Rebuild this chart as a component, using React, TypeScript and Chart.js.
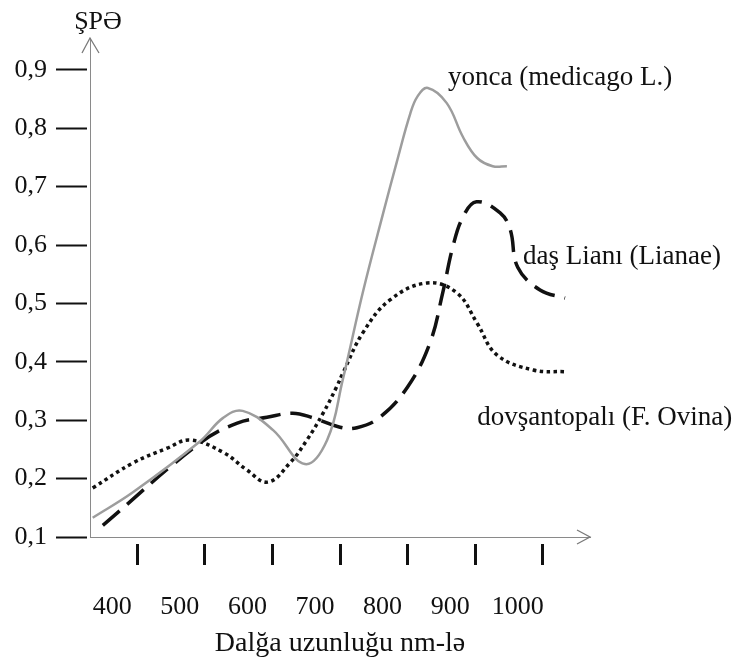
import React, { useEffect, useRef } from "react";
import { Chart, registerables } from "chart.js";

Chart.register(...registerables);

// Axis ticks and titles
const X_TICKS = [400, 500, 600, 700, 800, 900, 1000];
const Y_TICKS = [0.1, 0.2, 0.3, 0.4, 0.5, 0.6, 0.7, 0.8, 0.9];
const Y_TITLE = "ŞPƏ";
const X_TITLE = "Dalğa uzunluğu nm-lə";

// Series: yonca (medicago L.)
const YONCA_NM = [334, 394, 493, 527, 556, 601, 648, 681, 704, 734, 764, 784, 804, 815, 830, 858, 882, 903, 926, 947];
const YONCA_VAL = [0.133, 0.177, 0.264, 0.304, 0.316, 0.283, 0.225, 0.266, 0.369, 0.52, 0.655, 0.742, 0.825, 0.855, 0.869, 0.843, 0.785, 0.749, 0.735, 0.735];

// Series: daş Lianı (Lianae)
const DAS_NM = [349, 493, 548, 592, 630, 660, 700, 725, 759, 800, 833, 852, 867, 882, 902, 937, 952, 963, 996, 1033];
const DAS_VAL = [0.12, 0.261, 0.295, 0.305, 0.312, 0.304, 0.288, 0.287, 0.305, 0.357, 0.432, 0.518, 0.597, 0.648, 0.674, 0.655, 0.626, 0.562, 0.523, 0.509];

// Series: dovşantopalı (F. Ovina)
const DOVSAN_NM = [334, 394, 444, 478, 527, 562, 593, 626, 651, 675, 695, 704, 734, 774, 829, 873, 903, 932, 986, 1033];
const DOVSAN_VAL = [0.184, 0.227, 0.252, 0.266, 0.245, 0.215, 0.194, 0.227, 0.266, 0.312, 0.357, 0.38, 0.45, 0.506, 0.535, 0.518, 0.466, 0.412, 0.386, 0.383];

const SERIES_NAMES = ["yonca (medicago L.)", "daş Lianı (Lianae)", "dovşantopalı (F. Ovina)"];
// label anchors (in data units)
const LABEL_NM = [860, 971, 903];
const LABEL_VAL = [0.886, 0.579, 0.304];

const SERIF = "'Liberation Serif', 'Times New Roman', serif";

const axisDecor = {
  id: "axisDecor",
  afterDraw(chart: any) {
    const { ctx, chartArea: a } = chart;
    ctx.save();
    ctx.strokeStyle = "#7a7a7a";
    ctx.lineWidth = 1.3;
    ctx.beginPath();
    ctx.moveTo(a.left - 8, a.top + 15);
    ctx.lineTo(a.left, a.top);
    ctx.lineTo(a.left + 9, a.top + 15);
    ctx.moveTo(a.right - 13, a.bottom - 7);
    ctx.lineTo(a.right, a.bottom);
    ctx.lineTo(a.right - 13, a.bottom + 7);
    ctx.stroke();

    ctx.fillStyle = "#111";
    ctx.font = `26px ${SERIF}`;
    ctx.textAlign = "center";
    ctx.textBaseline = "middle";
    ctx.fillText(Y_TITLE, a.left + 8, a.top - 16);

    const xs = chart.scales.x;
    const ys = chart.scales.y;
    ctx.font = `27px ${SERIF}`;
    ctx.textAlign = "left";
    SERIES_NAMES.forEach((name, i) => {
      ctx.fillText(name, xs.getPixelForValue(LABEL_NM[i]), ys.getPixelForValue(LABEL_VAL[i]));
    });
    ctx.restore();
  },
};

export default function App() {
  const ref = useRef<HTMLCanvasElement>(null);

  useEffect(() => {
    const canvas = ref.current;
    if (!canvas) return;
    const mk = (nm: number[], v: number[]) => nm.map((x, i) => ({ x, y: v[i] }));
    const chart = new Chart(canvas, {
      type: "line",
      data: {
        datasets: [
          {
            label: SERIES_NAMES[0],
            data: mk(YONCA_NM, YONCA_VAL),
            borderColor: "#9d9d9d",
            borderWidth: 2.5,
            pointRadius: 0,
            fill: false,
            tension: 0.4,
          },
          {
            label: SERIES_NAMES[1],
            data: mk(DAS_NM, DAS_VAL),
            borderColor: "#111",
            borderWidth: 3.5,
            borderDash: [22, 10],
            pointRadius: 0,
            fill: false,
            tension: 0.4,
          },
          {
            label: SERIES_NAMES[2],
            data: mk(DOVSAN_NM, DOVSAN_VAL),
            borderColor: "#111",
            borderWidth: 3.5,
            borderDash: [3.5, 3.5],
            pointRadius: 0,
            fill: false,
            tension: 0.4,
          },
        ],
      } as any,
      options: {
        responsive: false,
        animation: false,
        layout: { padding: { left: 0, top: 38, right: 146, bottom: 0 } },
        plugins: {
          legend: { display: false },
          tooltip: { enabled: false },
        },
        scales: {
          x: {
            type: "linear",
            min: 330,
            max: 1070,
            afterBuildTicks: (s: any) => {
              s.ticks = X_TICKS.map((v) => ({ value: v }));
            },
            afterFit: (s: any) => {
              s.height = 123;
            },
            grid: {
              drawOnChartArea: false,
              drawTicks: true,
              tickLength: 28,
              tickWidth: 3,
              tickColor: "#111",
              tickBorderDash: [0, 6, 22, 100],
            },
            border: { display: true, color: "#8a8a8a", width: 1 },
            ticks: {
              autoSkip: false,
              maxRotation: 0,
              padding: 27,
              labelOffset: -25,
              color: "#111",
              font: { family: SERIF, size: 26 },
              callback: (v: any) => String(v),
            },
            title: {
              display: true,
              text: X_TITLE,
              color: "#111",
              font: { family: SERIF, size: 28 },
              padding: { top: 0, bottom: 0 },
            },
          },
          y: {
            type: "linear",
            min: 0.1,
            max: 0.9545,
            afterBuildTicks: (s: any) => {
              s.ticks = Y_TICKS.map((v) => ({ value: v }));
            },
            afterFit: (s: any) => {
              s.width = 90;
            },
            grid: {
              drawOnChartArea: false,
              drawTicks: true,
              tickLength: 34,
              tickWidth: 2,
              tickColor: "#111",
              tickBorderDash: [31, 100],
            },
            border: { display: true, color: "#8a8a8a", width: 1 },
            ticks: {
              autoSkip: false,
              padding: 9,
              color: "#111",
              font: { family: SERIF, size: 26 },
              callback: (v: any) => Number(v).toFixed(1).replace(".", ","),
            },
          },
        },
      } as any,
      plugins: [axisDecor],
    });
    return () => chart.destroy();
  }, []);

  return (
    <div style={{ position: "fixed", left: 0, top: 0, background: "#fff" }}>
      <canvas ref={ref} width={736} height={660} style={{ display: "block", width: 736, height: 660 }} />
    </div>
  );
}
